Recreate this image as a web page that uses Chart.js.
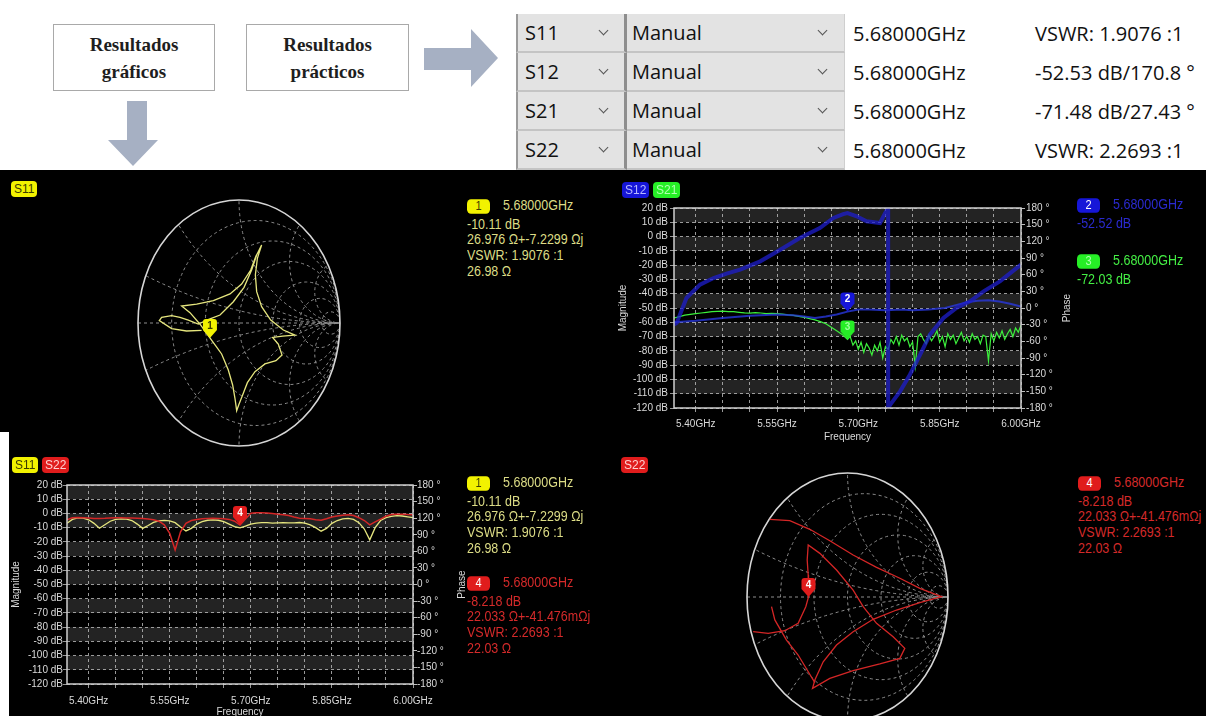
<!DOCTYPE html>
<html lang="es">
<head>
<meta charset="utf-8">
<title>Resultados</title>
<script src="https://cdn.jsdelivr.net/npm/chart.js@4.4.0/dist/chart.umd.min.js"></script>
<style>
  html, body { margin: 0; padding: 0; background: #fff; }
  #page { position: relative; width: 1206px; height: 716px; overflow: hidden; background: #fff; }
  .note { position: absolute; top: 24px; height: 67px; border: 1px solid #a9a9a9; box-sizing: border-box;
    display: flex; align-items: center; justify-content: center; text-align: center;
    font: bold 19px/27px "Liberation Serif", "DejaVu Serif", serif; color: #1e1e1e; }
  #arrows { position: absolute; left: 0; top: 0; }
  .cell { position: absolute; box-sizing: border-box; height: 39px; font: 20px "Open Sans", sans-serif; color: #111;
    display: flex; align-items: center; white-space: nowrap; }
  .combo { background: #e3e3e3; border-bottom: 2px solid #c4c4c4; }
  .colA { border-left: 2px solid #9b9b9b; border-right: 3px solid #8e8e8e; padding-left: 7px; }
  .colB { padding-left: 5px; border-right: 1px solid #cfcfcf; }
  .chev { position: absolute; top: 13px; width: 6px; height: 6px; border-right: 1.4px solid #555; border-bottom: 1.4px solid #555; transform: rotate(45deg); }
  #panel { position: absolute; left: 0; top: 170px; width: 1206px; height: 546px; background: #000; }
  #strip { position: absolute; left: 0; top: 432px; width: 9px; height: 284px; background: #fff; }
  canvas { position: absolute; }
  .chan { position: absolute; height: 16px; padding: 0 3px; border-radius: 4px; box-sizing: border-box;
    font: 12px/16px "Liberation Sans", sans-serif; }
  .info { position: absolute; white-space: nowrap; font: 12.5px/14.2px "Liberation Sans", sans-serif;
    transform: scaleY(1.13); transform-origin: 0 0; }
  .info .first { margin-bottom: 1.5px; }
  .info .num { display: inline-block; width: 23px; height: 13px; border-radius: 4px; text-align: center;
    font-size: 11px; line-height: 13px; margin-right: 13px; vertical-align: 0; }
</style>
</head>
<body>
<div id="page">
  <div class="note" style="left:53px;width:162px">Resultados<br>gráficos</div>
  <div class="note" style="left:246px;width:163px">Resultados<br>prácticos</div>
  <svg id="arrows" width="520" height="170">
    <polygon points="424,48 471,48 471,29 498,58 471,87 471,70 424,70" fill="#a6b0c3"/>
    <polygon points="127,101 147,101 147,140 158,140 133,166 108,140 127,140" fill="#a6b0c3"/>
  </svg>
  <div id="panel"></div>
  <div id="strip"></div>
  <canvas id="smithS11" width="218" height="262" style="left:130px;top:192px"></canvas>
  <canvas id="transfer" width="500" height="270" style="left:600px;top:176px"></canvas>
  <canvas id="reflect" width="500" height="275" style="left:0px;top:451px"></canvas>
  <canvas id="smithS22" width="217" height="264" style="left:739px;top:465px"></canvas>
</div>
<script>
// marker table
const paramNames = ['S11', 'S12', 'S21', 'S22'];
const markerMode = 'Manual';
const markerFreqText = '5.68000GHz';
const markerReadouts = ['VSWR: 1.9076 :1', '-52.53 dB/170.8 °', '-71.48 dB/27.43 °', 'VSWR: 2.2693 :1'];

// frequency axis
const freqGridGHz = [5.40, 5.45, 5.50, 5.55, 5.60, 5.65, 5.70, 5.75, 5.80, 5.85, 5.90, 5.95, 6.00];
const labelledGHz = [5.40, 5.55, 5.70, 5.85, 6.00];

// S11 / S22 return loss sweep
const sweepGHz = [
  5.36, 5.37, 5.38, 5.39, 5.40, 5.41, 5.42, 5.43, 5.44, 5.45,
  5.46, 5.47, 5.48, 5.49, 5.50, 5.51, 5.52, 5.53, 5.54, 5.55,
  5.56, 5.57, 5.58, 5.59, 5.60, 5.61, 5.62, 5.63, 5.64, 5.65,
  5.66, 5.67, 5.68, 5.69, 5.70, 5.71, 5.72, 5.73, 5.74, 5.75,
  5.76, 5.77, 5.78, 5.79, 5.80, 5.81, 5.82, 5.83, 5.84, 5.85,
  5.86, 5.87, 5.88, 5.89, 5.90, 5.91, 5.92, 5.93, 5.94, 5.95,
  5.96, 5.97, 5.98, 5.99, 6.00];
const s11MagDb = [
  -6.9, -4.2, -3.2, -3.3, -4.5, -7.0, -10.4, -8.0, -5.5, -4.2,
  -3.8, -4.0, -5.0, -7.5, -10.5, -8.5, -6.3, -5.2, -4.9, -5.2,
  -6.5, -9.5, -12.3, -10.5, -7.5, -5.8, -4.8, -4.5, -4.8, -5.8,
  -7.5, -9.3, -10.11, -9.0, -7.5, -6.8, -6.5, -6.5, -6.8, -6.6,
  -6.5, -6.7, -6.6, -6.4, -6.8, -8.0, -10.0, -12.5, -10.5, -7.0,
  -5.0, -3.8, -3.5, -4.2, -6.5, -11.0, -18.6, -10.0, -5.0, -3.0,
  -2.0, -1.6, -1.8, -2.4, -3.0];
const s22MagDb = [
  -4.5, -3.0, -2.8, -3.0, -3.2, -3.5, -3.5, -3.4, -3.2, -3.0,
  -3.0, -3.2, -3.3, -3.4, -3.6, -4.0, -4.5, -5.5, -8.0, -14.0,
  -25.7, -13.0, -7.0, -5.0, -4.2, -3.8, -3.5, -3.4, -3.5, -3.8,
  -4.2, -5.5, -8.218, -4.0, 0.2, 0.5, 0.5, 0.3, 0.0, -0.5,
  -1.0, -1.5, -2.5, -3.4, -3.5, -3.8, -4.5, -4.8, -3.8, -2.5,
  -1.8, -1.2, -1.0, -1.5, -3.0, -5.0, -8.0, -6.0, -4.0, -2.0,
  -0.8, -0.5, -0.5, -0.8, -1.0];

// S21 transmission, denser where it is noisy
const s21FreqGHz = [
  5.36, 5.37, 5.38, 5.39, 5.40, 5.41, 5.42, 5.43, 5.44, 5.45,
  5.46, 5.47, 5.48, 5.49, 5.50, 5.51, 5.52, 5.53, 5.54, 5.55,
  5.56, 5.57, 5.58, 5.59, 5.60, 5.61, 5.62, 5.63, 5.64, 5.65,
  5.66, 5.67, 5.68,
  5.685, 5.69, 5.695, 5.70, 5.705, 5.71, 5.715, 5.72, 5.725, 5.73,
  5.735, 5.74, 5.745, 5.75, 5.755, 5.76, 5.765, 5.77, 5.775, 5.78,
  5.785, 5.79, 5.795, 5.80, 5.805, 5.81, 5.815, 5.82, 5.825, 5.83,
  5.835, 5.84, 5.845, 5.85, 5.855, 5.86, 5.865, 5.87, 5.875, 5.88,
  5.885, 5.89, 5.895, 5.90, 5.905, 5.91, 5.915, 5.92, 5.925, 5.93,
  5.935, 5.94, 5.945, 5.95, 5.955, 5.96, 5.965, 5.97, 5.975, 5.98,
  5.985, 5.99, 5.995, 6.00];
const s21MagDb = [
  -57, -56, -55, -54.5, -54, -53.5, -53, -52.5, -52.3, -52.2,
  -52.5, -52.6, -53, -53.4, -53.6, -53.2, -53.5, -54, -53.8, -54,
  -54.3, -54.8, -55.2, -55.8, -56.5, -57.4, -58.3, -59.5, -61, -63.5,
  -66, -68.5, -72.03,
  -70, -76, -73, -79, -74, -81, -75, -78, -83, -76,
  -80, -74, -85, -77, -79, -72, -75, -70, -76, -69,
  -73, -71, -77, -74, -91, -70, -68, -72, -75, -69,
  -73, -70, -66, -74, -70, -77, -68, -72, -69, -75,
  -71, -67, -73, -70, -74, -68, -72, -70, -75, -69,
  -70, -87, -68, -73, -67, -71, -66, -72, -68, -65,
  -70, -64, -67, -62];

// S12 magnitude and phase
const s12FreqGHz = [5.36, 5.40, 5.45, 5.50, 5.55, 5.58, 5.60, 5.62, 5.64, 5.66, 5.68, 5.70, 5.72,
  5.75, 5.78, 5.80, 5.83, 5.86, 5.88, 5.90, 5.92, 5.94, 5.96, 5.98, 6.00];
const s12MagDb = [-60, -59, -57, -55.5, -54.5, -55, -56, -57, -56, -54.5, -52.52, -51, -51,
  -51.5, -51, -51.5, -51, -50, -48, -46, -45, -44.5, -45.5, -47, -49];
const s12PhaseFreqGHz = [5.36, 5.365, 5.383, 5.408, 5.433, 5.457, 5.482, 5.519, 5.556, 5.592, 5.629,
  5.654, 5.672, 5.68, 5.697, 5.715, 5.74, 5.749, 5.755, 5.755, 5.759, 5.777, 5.795, 5.814, 5.832,
  5.857, 5.881, 5.906, 5.931, 5.961, 6.00];
const s12PhaseDeg = [-30, -27, 18, 42, 54, 62, 69, 84, 105, 126, 144,
  162, 169, 170.8, 165, 156, 153, 170, 180, -180, -174, -150, -120, -84, -48,
  -18, 0, 12, 30, 48, 78];

// reflection coefficient traces (re, im)
const s11Gamma = [
  [-0.37, -0.06], [-0.52, -0.065], [-0.667, -0.046], [-0.789, 0.019], [-0.766, 0.046],
  [-0.667, 0.06], [-0.584, 0.046], [-0.502, 0.024], [-0.403, -0.008], [-0.30, 0.03],
  [-0.188, 0.065], [-0.056, 0.173], [0.05, 0.29], [0.125, 0.431], [0.175, 0.553],
  [0.224, 0.634], [0.182, 0.526], [0.162, 0.39], [0.175, 0.255], [0.224, 0.133],
  [0.314, 0.024], [0.439, -0.057], [0.554, -0.098], [0.432, -0.106], [0.333, -0.117],
  [0.389, -0.171], [0.426, -0.26], [0.366, -0.306], [0.257, -0.333], [0.158, -0.396],
  [0.083, -0.485], [0.036, -0.585], [-0.003, -0.667], [-0.023, -0.713], [-0.04, -0.612],
  [-0.063, -0.504], [-0.106, -0.382], [-0.172, -0.252], [-0.23, -0.185], [-0.288, -0.121],
  [-0.386, -0.01], [-0.485, 0.084], [-0.568, 0.138], [-0.419, 0.154], [-0.254, 0.182],
  [-0.089, 0.236], [0.026, 0.317], [0.116, 0.431], [0.168, 0.545], [0.201, 0.593]];
const s22Gamma = [
  [-0.773, 0.626], [-0.574, 0.616], [-0.375, 0.546], [-0.176, 0.454], [0.056, 0.339],
  [0.289, 0.239], [0.521, 0.151], [0.72, 0.07], [0.935, 0.003], [0.72, -0.046],
  [0.488, -0.105], [0.255, -0.18], [0.056, -0.28], [-0.109, -0.387], [-0.242, -0.522],
  [-0.325, -0.669], [-0.348, -0.737], [-0.176, -0.656], [0.056, -0.594], [0.322, -0.54],
  [0.521, -0.495], [0.57, -0.414], [0.454, -0.32], [0.289, -0.212], [0.156, -0.078],
  [0.056, 0.056], [-0.109, 0.218], [-0.275, 0.352], [-0.391, 0.419], [-0.401, 0.298],
  [-0.391, 0.177], [-0.388, 0.001], [-0.415, -0.078], [-0.491, -0.212], [-0.624, -0.272],
  [-0.789, -0.293], [-0.939, -0.28]];
const s22GammaTail = [
  [-0.756, -0.078], [-0.723, -0.185], [-0.607, -0.347], [-0.491, -0.468], [-0.401, -0.589], [-0.325, -0.691]];

// marker readouts
const markerGHz = 5.68;
const s11MarkerZ = [26.976, -7.2299];
const s22MarkerZ = [22.033, -0.041476];
const s11MarkerDb = -10.11, s22MarkerDb = -8.218, s12MarkerDb = -52.52, s21MarkerDb = -72.03;
const s11ReadoutLines = ['-10.11 dB', '26.976 Ω+-7.2299 Ωj', 'VSWR: 1.9076 :1', '26.98 Ω'];
const s22ReadoutLines = ['-8.218 dB', '22.033 Ω+-41.476mΩj', 'VSWR: 2.2693 :1', '22.03 Ω'];
const s12ReadoutLines = ['-52.52 dB'];
const s21ReadoutLines = ['-72.03 dB'];

const Z0 = 50;
const colors = {
  s11: '#e6e67e', s22: '#d42626', s21: '#3cf03c', s12: 'rgba(40,55,220,0.8)', s12Phase: 'rgba(30,30,205,0.75)'
};

// ---------- table ----------
const page = document.getElementById('page');
function addCell(cls, left, top, width, text, chevX) {
  const d = document.createElement('div');
  d.className = 'cell ' + cls;
  d.style.left = left + 'px';
  d.style.top = top + 'px';
  d.style.width = width + 'px';
  d.textContent = text;
  if (chevX !== undefined) {
    const c = document.createElement('span');
    c.className = 'chev';
    c.style.left = chevX + 'px';
    d.appendChild(c);
  }
  page.appendChild(d);
}
paramNames.forEach((name, i) => {
  const top = 14 + i * 39;
  addCell('combo colA', 516, top, 111, name, 82);
  addCell('combo colB', 627, top, 218, markerMode, 192);
  addCell('', 853, top, 180, markerFreqText);
  addCell('', 1035, top, 171, markerReadouts[i]);
});

// ---------- channel tags and marker readouts ----------
function addTag(text, left, top, bg, fg) {
  const d = document.createElement('div');
  d.className = 'chan';
  d.textContent = text;
  Object.assign(d.style, { left: left + 'px', top: top + 'px', background: bg, color: fg });
  page.appendChild(d);
}
addTag('S11', 11, 181, '#f2f200', '#3c3c00');
addTag('S12', 622, 182, '#1616d8', '#b8b8ff');
addTag('S21', 653, 182, '#26ee26', '#b0ffb0');
addTag('S11', 12, 457, '#f2f200', '#3c3c00');
addTag('S22', 42, 457, '#e01c1c', '#ffd0d0');
addTag('S22', 621, 457, '#e01c1c', '#ffd0d0');

function addReadout(left, top, num, bg, fg, color, lines) {
  const d = document.createElement('div');
  d.className = 'info';
  Object.assign(d.style, { left: left + 'px', top: top + 'px', color });
  const first = document.createElement('div');
  first.className = 'first';
  const n = document.createElement('span');
  n.className = 'num';
  n.textContent = num;
  Object.assign(n.style, { background: bg, color: fg });
  first.appendChild(n);
  first.appendChild(document.createTextNode(markerFreqText));
  d.appendChild(first);
  lines.forEach(t => {
    const l = document.createElement('div');
    l.textContent = t;
    d.appendChild(l);
  });
  page.appendChild(d);
}
addReadout(467, 198, '1', '#f2f200', '#3c3c00', '#dcdc86', s11ReadoutLines);
addReadout(1077, 197, '2', '#1616d8', '#ffffff', '#2a2ad0', s12ReadoutLines);
addReadout(1077, 253, '3', '#26ee26', '#b0ffb0', '#44ee44', s21ReadoutLines);
addReadout(467, 475, '1', '#f2f200', '#3c3c00', '#dcdc86', s11ReadoutLines);
addReadout(467, 575, '4', '#e01c1c', '#ffffff', '#d42a2a', s22ReadoutLines);
addReadout(1078, 475, '4', '#e01c1c', '#ffffff', '#d42a2a', s22ReadoutLines);

// ---------- Chart.js ----------
Chart.defaults.font.family = '"Liberation Sans", sans-serif';
Chart.defaults.font.size = 10;
Chart.defaults.color = '#dadada';

const gridColor = 'rgba(190,190,190,0.8)';

function drawPin(ctx, x, y, fill, text, textColor) {
  ctx.save();
  ctx.beginPath();
  ctx.moveTo(x, y);
  ctx.lineTo(x - 7, y - 8);
  ctx.lineTo(x - 7, y - 16);
  ctx.quadraticCurveTo(x - 7, y - 19, x - 4, y - 19);
  ctx.lineTo(x + 4, y - 19);
  ctx.quadraticCurveTo(x + 7, y - 19, x + 7, y - 16);
  ctx.lineTo(x + 7, y - 8);
  ctx.closePath();
  ctx.fillStyle = fill;
  ctx.fill();
  ctx.fillStyle = textColor;
  ctx.font = 'bold 10px "Liberation Sans", sans-serif';
  ctx.textAlign = 'center';
  ctx.textBaseline = 'middle';
  ctx.fillText(text, x, y - 12);
  ctx.restore();
}

const pinPlugin = {
  id: 'pins',
  afterDatasetsDraw(chart, args, opts) {
    (opts.list || []).forEach(p => {
      const xs = chart.scales[p.xAxis || 'x'], ys = chart.scales[p.yAxis || 'y'];
      drawPin(chart.ctx, xs.getPixelForValue(p.x), ys.getPixelForValue(p.y), p.fill, p.text, p.textColor);
    });
  }
};

// alternate shaded rows between the dB grid lines
const bandsPlugin = {
  id: 'bands',
  beforeDraw(chart) {
    const { ctx, chartArea: a, scales: { y } } = chart;
    ctx.save();
    ctx.fillStyle = '#232323';
    for (let top = 20; top > -120; top -= 20) {
      const y0 = y.getPixelForValue(top), y1 = y.getPixelForValue(top - 10);
      ctx.fillRect(a.left, y0, a.right - a.left, y1 - y0);
    }
    ctx.restore();
  }
};

// plot frame and the Phase caption on the right axis
const framePlugin = {
  id: 'frame',
  afterDatasetsDraw(chart, args, opts) {
    const { ctx, chartArea: a } = chart;
    ctx.save();
    ctx.strokeStyle = '#cfcfcf';
    ctx.lineWidth = 1.5;
    ctx.strokeRect(a.left, a.top, a.right - a.left, a.bottom - a.top);
    ctx.translate(a.right + opts.phaseOffset, (a.top + a.bottom) / 2);
    ctx.rotate(-Math.PI / 2);
    ctx.fillStyle = '#dadada';
    ctx.font = '10px "Liberation Sans", sans-serif';
    ctx.textAlign = 'center';
    ctx.textBaseline = 'middle';
    ctx.fillText('Phase', 0, 0);
    ctx.restore();
  }
};

function pairs(xs, ys) {
  return xs.map((x, i) => ({ x, y: ys[i] }));
}

function sweepChart(id, box, datasets, pins) {
  return new Chart(document.getElementById(id), {
    type: 'line',
    data: { datasets },
    options: {
      responsive: false, animation: false, events: [],
      layout: { padding: { top: box.padTop, left: 0, right: 0, bottom: 0 } },
      elements: { point: { radius: 0 }, line: { tension: 0 } },
      plugins: {
        legend: { display: false }, tooltip: { enabled: false },
        pins: { list: pins }, frame: { phaseOffset: box.phaseOffset }
      },
      scales: {
        x: {
          type: 'linear', min: 5.36, max: 6.0,
          afterBuildTicks: s => { s.ticks = freqGridGHz.map(v => ({ value: v })); },
          afterFit: s => { s.height = box.xHeight; },
          ticks: {
            autoSkip: false, maxRotation: 0, padding: box.xTickPad,
            callback: v => labelledGHz.includes(Math.round(v * 100) / 100) ? v.toFixed(2) + 'GHz' : ''
          },
          grid: { color: gridColor, tickLength: 4 },
          border: { display: false, dash: [3, 3] },
          title: { display: true, text: 'Frequency', padding: { top: 0, bottom: box.freqTitlePad } }
        },
        y: {
          type: 'linear', position: 'left', min: -120, max: 20,
          afterFit: s => { s.width = box.yWidth; },
          ticks: { stepSize: 10, autoSkip: false, padding: box.yTickPad, callback: v => v + ' dB' },
          grid: { color: gridColor, tickLength: 4 },
          border: { display: false, dash: [3, 3] },
          title: { display: true, text: 'Magnitude', padding: { top: box.magTitlePad, bottom: 0 } }
        },
        phase: {
          type: 'linear', position: 'right', min: -180, max: 180,
          afterFit: s => { s.width = box.phaseWidth; },
          ticks: { stepSize: 30, autoSkip: false, padding: box.phaseTickPad, callback: v => v + ' °' },
          grid: { drawOnChartArea: false, color: '#bdbdbd', tickLength: 4 },
          border: { display: false }
        }
      }
    },
    plugins: [bandsPlugin, framePlugin, pinPlugin]
  });
}

// S12 / S21 transmission
sweepChart('transfer',
  { padTop: 32, yWidth: 74, phaseWidth: 79, xHeight: 38, xTickPad: 6, freqTitlePad: 3,
    yTickPad: 2, phaseTickPad: 1, magTitlePad: 17, phaseOffset: 46 },
  [
    { data: pairs(s12PhaseFreqGHz, s12PhaseDeg), yAxisID: 'phase', borderColor: colors.s12Phase, borderWidth: 4 },
    { data: pairs(s12FreqGHz, s12MagDb), yAxisID: 'y', borderColor: colors.s12, borderWidth: 2 },
    { data: pairs(s21FreqGHz, s21MagDb), yAxisID: 'y', borderColor: colors.s21, borderWidth: 1.2 }
  ],
  [
    { x: markerGHz, y: s12MarkerDb, fill: '#1616d8', text: '2', textColor: '#ffffff' },
    { x: markerGHz, y: s21MarkerDb, fill: '#26ee26', text: '3', textColor: '#9cff9c' }
  ]);

// S11 / S22 return loss
sweepChart('reflect',
  { padTop: 34, yWidth: 67, phaseWidth: 87, xHeight: 42, xTickPad: 7, freqTitlePad: 8,
    yTickPad: 0, phaseTickPad: 0, magTitlePad: 10, phaseOffset: 49 },
  [
    { data: pairs(sweepGHz, s22MagDb), yAxisID: 'y', borderColor: colors.s22, borderWidth: 1.5 },
    { data: pairs(sweepGHz, s11MagDb), yAxisID: 'y', borderColor: colors.s11, borderWidth: 1.3 }
  ],
  [
    { x: markerGHz, y: s22MarkerDb, fill: '#e01c1c', text: '4', textColor: '#ffffff' }
  ]);

// ---------- Smith charts ----------
const resistanceCircles = [0.2, 0.5, 1, 2, 4, 10];
const reactanceArcs = [0.2, 0.5, 1, 2, 4];

function reflection([r, x]) {
  const a = r - Z0, c = r + Z0, den = c * c + x * x;
  return { x: (a * c + x * x) / den, y: (x * c - a * x) / den };
}

const smithGrid = {
  id: 'smithGrid',
  beforeDatasetsDraw(chart) {
    const { ctx, scales: { x, y } } = chart;
    const cx = x.getPixelForValue(0), cy = y.getPixelForValue(0);
    const sx = x.getPixelForValue(1) - cx, sy = cy - y.getPixelForValue(1);
    const ring = (gx, gy, rad) => {
      ctx.beginPath();
      ctx.ellipse(cx + gx * sx, cy - gy * sy, rad * sx, rad * sy, 0, 0, Math.PI * 2);
      ctx.stroke();
    };
    ctx.save();
    ctx.beginPath();
    ctx.ellipse(cx, cy, sx, sy, 0, 0, Math.PI * 2);
    ctx.clip();
    ctx.setLineDash([3, 3]);
    ctx.strokeStyle = '#8d8d8d';
    ctx.lineWidth = 1;
    ctx.beginPath();
    ctx.moveTo(cx - sx, cy);
    ctx.lineTo(cx + sx, cy);
    ctx.stroke();
    resistanceCircles.forEach(r => ring(r / (r + 1), 0, 1 / (r + 1)));
    reactanceArcs.forEach(v => { ring(1, 1 / v, 1 / v); ring(1, -1 / v, 1 / v); });
    ctx.restore();
    ctx.save();
    ctx.strokeStyle = '#d6d6d6';
    ctx.lineWidth = 1.6;
    ring(0, 0, 1);
    ctx.restore();
  }
};

function smithChart(id, traces, color, pin) {
  return new Chart(document.getElementById(id), {
    type: 'scatter',
    data: {
      datasets: traces.map(t => ({
        data: t.map(([re, im]) => ({ x: re, y: im })),
        showLine: true, borderColor: color, borderWidth: 1.3, pointRadius: 0, tension: 0
      }))
    },
    options: {
      responsive: false, animation: false, events: [],
      layout: { padding: 8 },
      plugins: { legend: { display: false }, tooltip: { enabled: false }, pins: { list: [pin] } },
      scales: {
        x: { type: 'linear', min: -1, max: 1, display: false },
        y: { type: 'linear', min: -1, max: 1, display: false }
      }
    },
    plugins: [smithGrid, pinPlugin]
  });
}

const s11Pin = reflection(s11MarkerZ);
const s22Pin = reflection(s22MarkerZ);
smithChart('smithS11', [s11Gamma], colors.s11,
  { x: s11Pin.x, y: s11Pin.y, fill: '#f2f200', text: '1', textColor: '#3c3c00' });
smithChart('smithS22', [s22Gamma, s22GammaTail], colors.s22,
  { x: s22Pin.x, y: s22Pin.y, fill: '#e01c1c', text: '4', textColor: '#ffffff' });
</script>
</body>
</html>
